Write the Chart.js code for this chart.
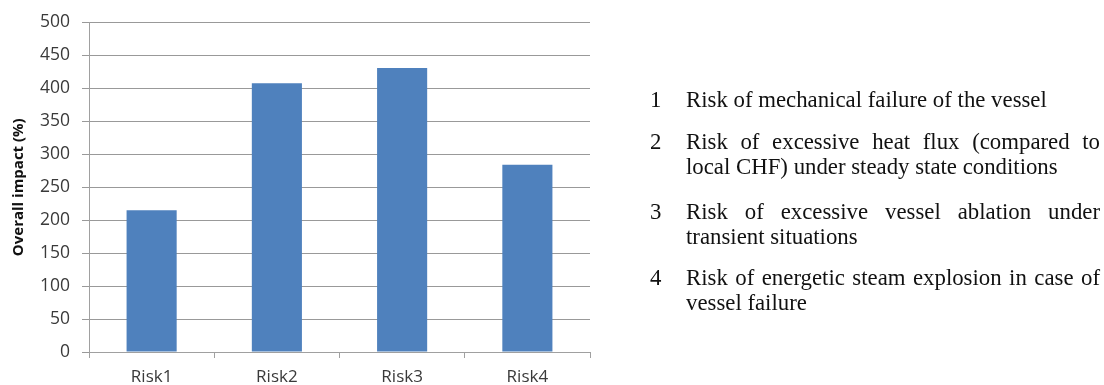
<!DOCTYPE html>
<html><head><meta charset="utf-8">
<script src="https://cdn.jsdelivr.net/npm/chart.js@4/dist/chart.umd.min.js"></script>
<style>
html,body{margin:0;padding:0;background:#fff;width:1104px;height:385px;overflow:hidden;}
#wrap{position:absolute;left:0;top:0;width:600px;height:385px;}
#legend{position:absolute;left:0;top:0;width:1104px;height:385px;font-family:"Liberation Serif","Times New Roman",serif;font-size:22.8px;color:#111;}
.ln{position:absolute;height:26px;line-height:26px;white-space:nowrap;}
.j{text-align:justify;text-align-last:justify;}
</style></head><body>
<div id="wrap"><canvas id="c" width="600" height="385"></canvas></div>
<div id="legend"></div>
<script>
const categories = ["Risk1","Risk2","Risk3","Risk4"];
const values = [215, 408, 431, 284];
const yTicks = [0,50,100,150,200,250,300,350,400,450,500];
const legendNums = ["1","2","3","4"];
const legendLines = [
  ["Risk of mechanical failure of the vessel"],
  ["Risk of excessive heat flux (compared to","local CHF) under steady state conditions"],
  ["Risk of excessive vessel ablation under","transient situations"],
  ["Risk of energetic steam explosion in case of","vessel failure"]
];
const legendCenters = [[100],[142,167],[212,237],[278,303]];

const lg = document.getElementById('legend');
legendLines.forEach((lines,i)=>{
  const n = document.createElement('div'); n.className='ln';
  n.style.left='650px'; n.style.top=(legendCenters[i][0]-13)+'px'; n.textContent=legendNums[i]; lg.appendChild(n);
  lines.forEach((l,k)=>{
    const d=document.createElement('div'); d.className='ln'+(k<lines.length-1?' j':'');
    d.style.left='686px'; d.style.width='414px'; d.style.top=(legendCenters[i][k]-13)+'px';
    d.textContent=l; lg.appendChild(d);
  });
});

const tickFont = '"Open Sans","Liberation Sans",sans-serif';
new Chart(document.getElementById('c'),{
  type:'bar',
  data:{labels:categories,datasets:[{data:values,backgroundColor:'#4F81BD',borderWidth:0,barPercentage:0.4,categoryPercentage:1.0}]},
  options:{
    responsive:false,animation:false,
    layout:{padding:{left:10,right:10,top:20,bottom:0}},
    plugins:{legend:{display:false},tooltip:{enabled:false}},
    scales:{
      x:{
        offset:true,
        grid:{offset:true,drawOnChartArea:false,drawTicks:true,tickLength:6,color:'#a0a0a0'},
        border:{color:'#a0a0a0',width:1},
        ticks:{color:'#3a3a3a',font:{family:tickFont,size:17},padding:9},
        afterFit(s){s.height=33;}
      },
      y:{
        min:0,max:500,
        afterBuildTicks(s){s.ticks=yTicks.map(v=>({value:v}));},
        grid:{color:'#999',tickLength:7,drawTicks:true},
        border:{color:'#a0a0a0',width:1},
        ticks:{color:'#3a3a3a',font:{family:tickFont,size:17.5},padding:12},
        title:{display:true,text:'Overall impact (%)',color:'#111',font:{family:tickFont,size:15,weight:'bold'},padding:{top:0,bottom:0}},
        afterFit(s){s.width=79;}
      }
    }
  }
});
</script>
</body></html>
